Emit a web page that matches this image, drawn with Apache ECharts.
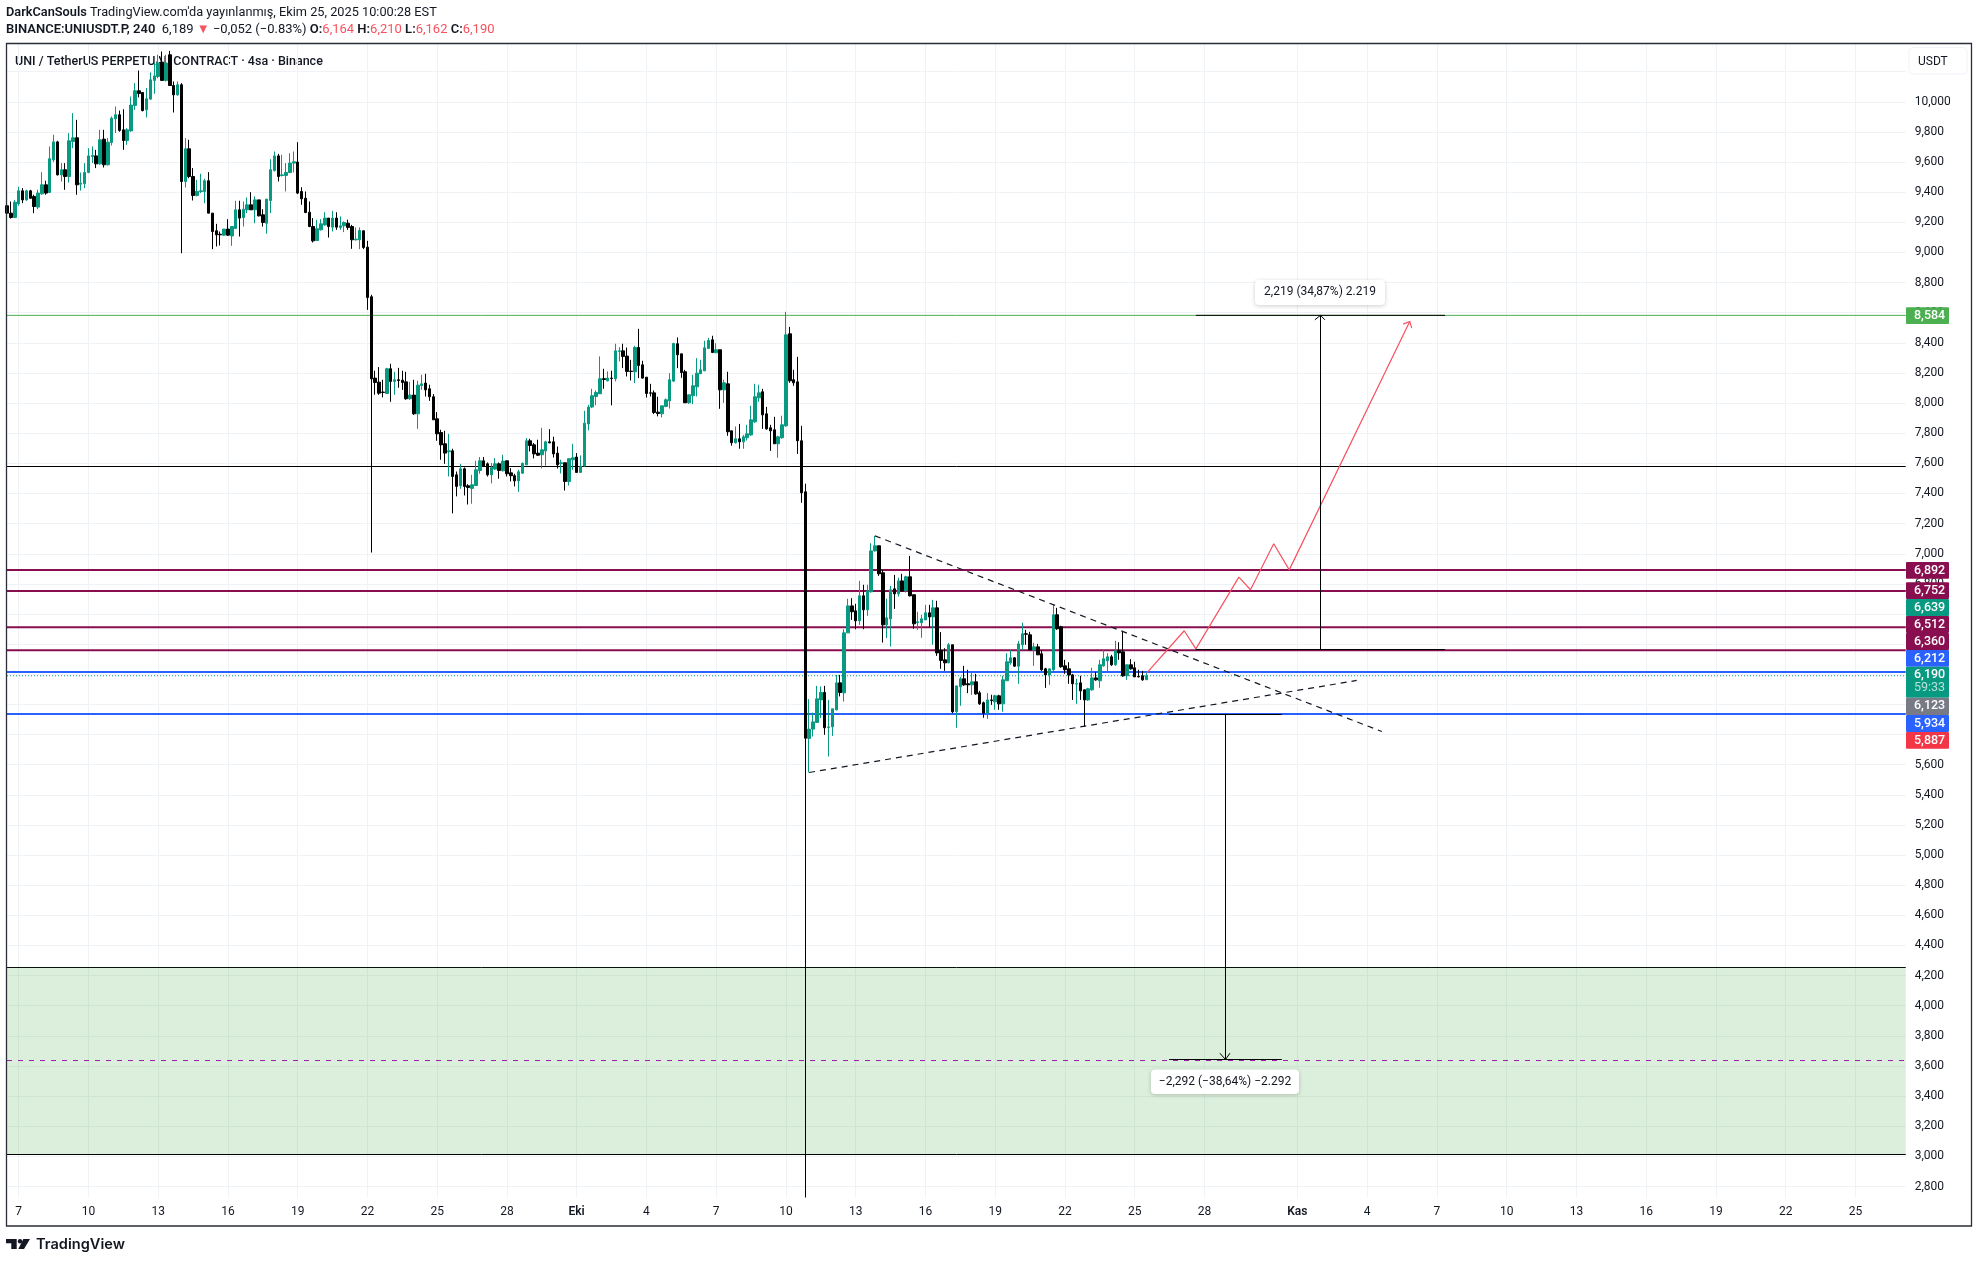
<!DOCTYPE html>
<html>
<head>
<meta charset="utf-8">
<title>UNIUSDT.P</title>
<style>
  html, body { margin: 0; background: #fff; }
  #chart { width: 1978px; height: 1263px; }
</style>
<script src="https://cdn.jsdelivr.net/npm/echarts@6/dist/echarts.min.js"></script>
</head>
<body>
<div id="chart"></div>
<script>
// 4h bars
const opens = [
  9.31,9.261,9.232,9.323,9.409,9.349,9.409,9.372,9.301,9.389,
  9.449,9.398,9.615,9.734,9.515,9.549,9.504,9.737,9.761,9.453,
  9.456,9.531,9.637,9.641,9.588,9.752,9.582,9.73,9.887,9.914,
  9.814,9.743,9.807,9.976,10.073,10.062,9.947,10.018,10.142,10.168,
  10.263,10.142,10.312,10.108,10.046,10.113,9.471,9.688,9.504,9.378,
  9.405,9.405,9.476,9.261,9.144,9.121,9.115,9.155,9.11,9.159,
  9.283,9.232,9.283,9.316,9.283,9.349,9.25,9.194,9.345,9.544,
  9.641,9.511,9.511,9.531,9.593,9.6,9.405,9.36,9.267,9.172,
  9.079,9.15,9.183,9.228,9.168,9.228,9.166,9.177,9.194,9.172,
  9.084,9.084,9.144,9.035,8.706,8.166,8.139,8.073,8.064,8.228,
  8.144,8.155,8.152,8.141,8.029,8.053,7.929,8.117,8.133,8.095,
  8.042,7.896,7.805,7.73,7.677,7.683,7.524,7.451,7.564,7.451,
  7.434,7.453,7.553,7.617,7.597,7.524,7.562,7.597,7.551,7.617,
  7.537,7.518,7.484,7.535,7.59,7.75,7.723,7.668,7.657,7.683,
  7.743,7.743,7.668,7.599,7.604,7.48,7.624,7.642,7.54,7.582,
  7.862,7.974,8.044,8.062,8.162,8.148,8.166,8.162,8.343,8.347,
  8.312,8.212,8.208,8.369,8.254,8.172,8.068,8.068,7.94,7.929,
  7.978,8.015,8.146,8.394,8.327,8.208,8.002,8.049,8.108,8.195,
  8.214,8.363,8.42,8.334,8.354,8.088,8.128,7.816,7.737,7.763,
  7.743,7.77,7.789,7.876,8.035,8.075,7.929,7.836,7.823,7.73,
  7.77,7.849,8.46,8.155,8.141,7.75,7.411,5.774,5.836,5.88,
  6.03,6.079,5.847,5.851,5.964,6.143,6.077,6.475,6.654,6.621,
  6.555,6.721,6.628,6.747,7.019,7.053,6.874,6.528,6.568,6.767,
  6.734,6.82,6.754,6.847,6.728,6.542,6.542,6.561,6.608,6.581,
  6.641,6.358,6.296,6.276,6.396,5.951,6.117,6.17,6.137,6.13,
  6.15,6.077,6.011,5.942,6.03,6.017,6.057,6.004,6.157,6.276,
  6.309,6.254,6.396,6.469,6.462,6.362,6.382,6.336,6.236,6.196,
  6.23,6.595,6.515,6.256,6.236,6.196,6.135,6.143,6.097,6.03,
  6.097,6.176,6.157,6.256,6.289,6.316,6.263,6.356,6.349,6.19,
  6.263,6.243,6.187,6.19,6.164
];
const closes = [
  9.261,9.232,9.334,9.409,9.349,9.409,9.36,9.305,9.394,9.449,
  9.394,9.622,9.734,9.515,9.549,9.504,9.741,9.761,9.449,9.46,
  9.531,9.641,9.644,9.588,9.748,9.582,9.732,9.891,9.914,9.81,
  9.743,9.814,9.978,10.073,10.055,9.942,10.02,10.146,10.172,10.257,
  10.142,10.257,10.108,10.046,10.113,9.471,9.688,9.504,9.378,9.405,
  9.409,9.476,9.261,9.139,9.117,9.117,9.155,9.115,9.172,9.283,
  9.228,9.287,9.316,9.283,9.349,9.243,9.199,9.354,9.549,9.641,
  9.504,9.515,9.531,9.593,9.602,9.394,9.356,9.265,9.172,9.077,
  9.157,9.19,9.228,9.172,9.228,9.168,9.177,9.199,9.166,9.084,
  9.088,9.146,9.033,8.701,8.161,8.137,8.066,8.071,8.228,8.144,
  8.155,8.15,8.137,8.029,8.053,7.929,8.119,8.128,8.088,8.042,
  7.889,7.796,7.723,7.668,7.683,7.513,7.447,7.564,7.447,7.44,
  7.458,7.557,7.617,7.579,7.524,7.573,7.597,7.553,7.615,7.531,
  7.518,7.484,7.544,7.6,7.75,7.719,7.663,7.654,7.69,7.743,
  7.736,7.663,7.59,7.604,7.48,7.631,7.637,7.54,7.582,7.867,
  7.974,8.049,8.071,8.162,8.157,8.166,8.164,8.347,8.347,8.31,
  8.21,8.21,8.369,8.25,8.166,8.064,8.066,7.938,7.931,7.982,
  8.022,8.155,8.396,8.321,8.203,8.002,8.055,8.115,8.199,8.221,
  8.367,8.416,8.336,8.354,8.088,8.135,7.81,7.737,7.763,7.743,
  7.776,7.796,7.889,8.042,8.068,7.922,7.829,7.816,7.73,7.776,
  7.856,8.453,8.148,8.135,7.75,7.405,5.776,5.836,5.884,6.037,
  6.079,5.845,5.851,5.971,6.143,6.079,6.475,6.654,6.615,6.555,
  6.721,6.628,6.754,7.019,7.053,6.867,6.528,6.575,6.761,6.734,
  6.82,6.752,6.847,6.721,6.535,6.548,6.568,6.608,6.581,6.641,
  6.342,6.292,6.276,6.396,5.951,6.123,6.17,6.13,6.13,6.15,
  6.07,6.004,5.942,6.03,6.026,6.057,6.004,6.163,6.283,6.309,
  6.254,6.402,6.469,6.466,6.362,6.382,6.329,6.23,6.196,6.236,
  6.595,6.502,6.25,6.23,6.196,6.137,6.137,6.09,6.03,6.104,
  6.176,6.163,6.263,6.303,6.316,6.263,6.356,6.342,6.19,6.263,
  6.236,6.183,6.183,6.163,6.19
];
const highs = [
  9.349,9.338,9.349,9.436,9.427,9.416,9.416,9.383,9.416,9.533,
  9.476,9.703,9.781,9.741,9.593,9.593,9.792,9.925,9.88,9.531,
  9.593,9.692,9.703,9.681,9.814,9.814,9.759,9.903,9.969,9.942,
  9.951,9.825,10.035,10.124,10.208,10.062,10.091,10.195,10.257,10.312,
  10.334,10.312,10.338,10.135,10.135,10.124,9.759,9.748,9.56,9.482,
  9.522,9.489,9.533,9.261,9.19,9.139,9.155,9.221,9.172,9.343,
  9.343,9.338,9.365,9.4,9.372,9.349,9.287,9.354,9.619,9.67,
  9.655,9.648,9.593,9.659,9.67,9.732,9.433,9.405,9.338,9.228,
  9.217,9.221,9.267,9.228,9.276,9.267,9.239,9.206,9.217,9.183,
  9.166,9.166,9.144,9.077,8.719,8.215,8.239,8.155,8.234,8.261,
  8.208,8.234,8.215,8.208,8.141,8.155,8.148,8.188,8.195,8.122,
  8.06,7.94,7.823,7.816,7.796,7.697,7.546,7.597,7.573,7.462,
  7.524,7.617,7.642,7.642,7.606,7.602,7.635,7.606,7.657,7.619,
  7.568,7.531,7.557,7.606,7.768,7.763,7.735,7.757,7.836,7.75,
  7.827,7.777,7.712,7.624,7.604,7.631,7.73,7.668,7.653,7.949,
  7.989,8.095,8.084,8.31,8.228,8.21,8.215,8.394,8.371,8.394,
  8.369,8.287,8.38,8.493,8.281,8.172,8.128,8.084,8.042,7.982,
  8.031,8.199,8.4,8.436,8.327,8.221,8.055,8.188,8.298,8.287,
  8.414,8.433,8.447,8.398,8.354,8.155,8.208,7.816,7.845,7.862,
  7.789,7.856,7.982,8.128,8.122,8.095,7.975,7.856,7.909,7.783,
  7.916,8.606,8.506,8.221,8.307,7.849,7.465,6.035,5.946,6.123,
  6.119,6.123,6.03,5.971,6.196,6.196,6.499,6.701,6.705,6.668,
  6.82,6.794,6.794,7.07,7.119,7.053,6.893,6.701,6.787,6.86,
  6.842,6.867,6.854,6.986,6.728,6.615,6.595,6.661,6.661,6.694,
  6.688,6.48,6.373,6.407,6.396,6.123,6.183,6.256,6.23,6.21,
  6.203,6.09,6.019,6.075,6.064,6.064,6.064,6.19,6.34,6.362,
  6.314,6.422,6.542,6.495,6.482,6.409,6.402,6.362,6.243,6.236,
  6.661,6.641,6.522,6.296,6.28,6.203,6.17,6.19,6.097,6.11,
  6.243,6.216,6.296,6.367,6.34,6.329,6.422,6.413,6.486,6.263,
  6.3,6.283,6.23,6.223,6.21
];
const lows = [
  9.217,9.225,9.228,9.31,9.327,9.343,9.356,9.261,9.287,9.383,
  9.383,9.398,9.6,9.511,9.471,9.416,9.464,9.692,9.383,9.411,
  9.427,9.526,9.593,9.56,9.582,9.564,9.577,9.71,9.792,9.801,
  9.681,9.714,9.801,9.947,10.029,9.936,9.896,10.013,10.053,10.157,
  10.142,10.135,10.106,9.929,10.04,8.995,9.431,9.493,9.345,9.372,
  9.394,9.327,9.261,9.022,9.04,9.046,9.11,9.11,9.044,9.155,
  9.106,9.172,9.261,9.283,9.194,9.239,9.172,9.124,9.261,9.537,
  9.471,9.504,9.405,9.526,9.531,9.387,9.316,9.261,9.168,9.066,
  9.077,9.146,9.177,9.099,9.139,9.15,9.15,9.135,9.15,9.024,
  9.079,9.022,9.022,8.619,7.008,8.055,8.055,8.038,8.062,8.009,
  8.055,8.102,8.088,8.022,8.022,7.922,7.829,8.088,8.044,8.015,
  7.889,7.75,7.624,7.597,7.513,7.268,7.381,7.431,7.387,7.327,
  7.332,7.451,7.531,7.579,7.513,7.467,7.557,7.498,7.546,7.513,
  7.48,7.447,7.411,7.531,7.59,7.679,7.633,7.65,7.566,7.584,
  7.734,7.639,7.566,7.533,7.42,7.453,7.557,7.54,7.54,7.579,
  7.819,7.967,7.985,8.062,8.095,8.144,7.985,8.144,8.277,8.232,
  8.177,8.15,8.133,8.166,8.162,8.037,8.044,7.927,7.912,7.905,
  7.973,7.964,8.141,8.232,8.168,8.002,7.995,7.993,8.044,8.195,
  8.214,8.363,8.332,8.334,7.962,8.002,7.783,7.717,7.732,7.697,
  7.697,7.752,7.783,7.867,8.009,7.829,7.823,7.683,7.73,7.637,
  7.763,7.843,8.135,8.115,7.663,7.338,2.727,5.548,5.787,5.88,
  5.909,5.798,5.654,5.791,5.96,6.053,6.019,6.475,6.561,6.499,
  6.528,6.499,6.588,6.743,7.015,6.853,6.411,6.44,6.384,6.634,
  6.716,6.747,6.743,6.716,6.502,6.495,6.442,6.561,6.513,6.396,
  6.322,6.236,6.223,6.274,5.942,5.845,5.991,6.123,6.075,6.064,
  6.064,5.997,5.911,5.904,5.997,5.964,5.964,5.951,6.157,6.263,
  6.25,6.137,6.362,6.396,6.362,6.256,6.329,6.223,6.11,6.13,
  6.223,6.495,6.243,6.203,6.137,6.03,6.004,6.03,5.853,6.024,
  6.09,6.157,6.11,6.25,6.216,6.256,6.256,6.296,6.183,6.163,
  6.23,6.183,6.179,6.157,6.162
];

// time axis: every bar is 4h, the scale runs on past the last candle
const tickDates = ['09-07','09-10','09-13','09-16','09-19','09-22','09-25','09-28','10-01','10-04','10-07','10-10','10-13','10-16','10-19','10-22','10-25','10-28','11-01','11-04','11-07','11-10','11-13','11-16','11-19','11-22','11-25'];
const tickLabels = ['7','10','13','16','19','22','25','28','Eki','4','7','10','13','16','19','22','25','28','Kas','4','7','10','13','16','19','22','25'];
const barCount = 491;
const categories = [];
for (let i = 0; i < barCount; i++) {
  const d = new Date(Date.UTC(2025, 8, 6, 12 + i * 4));
  const mm = String(d.getUTCMonth() + 1).padStart(2, '0');
  const dd = String(d.getUTCDate()).padStart(2, '0');
  const hh = String(d.getUTCHours()).padStart(2, '0');
  categories.push(mm + '-' + dd + ' ' + hh);
}

const gridTicks = [2.8,3,3.2,3.4,3.6,3.8,4,4.2,4.4,4.6,4.8,5,5.2,5.4,5.6,5.8,6,6.2,6.4,6.6,6.8,7,7.2,7.4,7.6,7.8,8,8.2,8.4,8.6,8.8,9,9.2,9.4,9.6,9.8,10,10.2];
const labelTicks = gridTicks.slice(0, -1); // 10,200 sits under the USDT button

// horizontal levels
const maroonLevels = [6.892, 6.752, 6.512, 6.36];
const blueLevels = [6.2151, 5.9361];
const targetLevel = 8.5825;
const pivotLevel = 7.5792;
const zoneTop = 4.2536;
const zoneBottom = 3.0124;
const zoneMid = 3.6362;
const lastClose = 6.19;

// drawings, [bar, price]
const fallingTrend = [[224, 7.119], [354.8, 5.82]];
const risingTrend = [[207, 5.548], [348.3, 6.159]];
const projection = [[294.1, 6.208], [303.8, 6.489], [306.8, 6.369], [317.9, 6.845], [320.9, 6.761], [326.9, 7.066], [330.9, 6.893], [362, 8.542]];
const projectionHead = [[360.3, 8.524], [362, 8.542], [362.5, 8.498]];
const upStem = [[338.97, 6.3644], [338.97, 8.5825]];
const upHead = [[337.5, 8.553], [338.97, 8.5825], [340.1, 8.553]];
const upCapTop = [[306.8, 8.5825], [371.1, 8.5825]];
const upCapBottom = [[306.8, 6.3644], [371.1, 6.3644]];
const downStem = [[314.45, 5.933], [314.45, 3.6429]];
const downHead = [[313, 3.685], [314.45, 3.6429], [315.6, 3.685]];
const downCapTop = [[299.9, 5.933], [329, 5.933]];
const downCapBottom = [[299.9, 3.6429], [329, 3.6429]];

// price scale tags
const tagLabels = ['8,584', '6,892', '6,752', '6,639', '6,512', '6,360', '6,212', '6,190', '6,123', '5,934', '5,887'];
const tagColors = ['#4caf50', '#880e4f', '#880e4f', '#089981', '#880e4f', '#880e4f', '#2962ff', '#089981', '#787b86', '#2962ff', '#f23645'];
const tagTops = [307.3, 562, 582.3, 599, 616, 633, 650, 666.7, 697.7, 715, 732];
const tagHeights = [16.7, 16.7, 16.7, 17, 17, 17, 16.7, 31, 17.3, 17, 16.7];

const textColor = '#131722';
const font = 'Roboto, sans-serif';
const tickSet = {};
tickDates.forEach((d, i) => { tickSet[d + ' 00'] = tickLabels[i]; });

function hLine(price, color, width, type) {
  return {
    type: 'line', xAxisIndex: 1, yAxisIndex: 0, silent: true, z: 1,
    data: [[0, price], [490, price]],
    symbol: 'none', animation: false,
    lineStyle: { color: color, width: width, type: type || 'solid' }
  };
}
function drawing(points, color, width, type) {
  return {
    type: 'line', xAxisIndex: 1, yAxisIndex: 0, silent: true, z: 5,
    data: points, symbol: 'none', animation: false,
    lineStyle: { color: color, width: width, type: type || 'solid' }
  };
}

const zoneSeries = hLine(zoneTop, '#000', 1);
zoneSeries.z = 0;
zoneSeries.markArea = {
  silent: true,
  itemStyle: { color: 'rgba(76,175,80,0.2)' },
  data: [[{ xAxis: 0, yAxis: zoneTop }, { xAxis: 490, yAxis: zoneBottom }]]
};

const series = [
  zoneSeries,
  hLine(zoneBottom, '#000', 1),
  hLine(zoneMid, '#a21caf', 1, [5, 6]),
  hLine(targetLevel, '#4caf50', 1),
  hLine(pivotLevel, '#000', 1),
  hLine(lastClose, '#089981', 1, [1, 2])
];
maroonLevels.forEach(v => series.push(hLine(v, '#880e4f', 2)));
blueLevels.forEach(v => series.push(hLine(v, '#2962ff', 2)));

series.push({
  type: 'candlestick',
  xAxisIndex: 0, yAxisIndex: 0, z: 3, barWidth: 3, animation: false, silent: true,
  itemStyle: { color: '#089981', borderColor: '#089981', color0: '#000000', borderColor0: '#000000', borderWidth: 1 },
  data: opens.map((o, i) => [o, closes[i], lows[i], highs[i]])
});

const dashed = [6, 5];
[fallingTrend, risingTrend].forEach(p => series.push(drawing(p, '#131722', 1.2, dashed)));
[projection, projectionHead].forEach(p => series.push(drawing(p, '#f7525f', 1.2)));
[upStem, upHead, upCapTop, upCapBottom, downStem, downHead, downCapTop, downCapBottom].forEach(p => series.push(drawing(p, '#000', 1)));

// page furniture that is not on the scales
const graphic = [
  {
    type: 'text', left: 6, top: 6, silent: true,
    style: {
      text: "{b|DarkCanSouls} TradingView.com'da yayınlanmış, Ekim 25, 2025 10:00:28 EST",
      font: '12.75px ' + font, fill: textColor,
      rich: { b: { font: '600 12.75px ' + font, fill: textColor } }
    }
  },
  {
    type: 'text', left: 6, top: 23.5, silent: true,
    style: {
      text: '{b|BINANCE:UNIUSDT.P, 240}  6,189 {r|▼} −0,052 (−0.83%) {b|O:}{r|6,164} {b|H:}{r|6,210} {b|L:}{r|6,162} {b|C:}{r|6,190}',
      font: '13px ' + font, fill: textColor,
      rich: {
        b: { font: '600 13px ' + font, fill: textColor },
        r: { font: '13px ' + font, fill: '#f7525f' }
      }
    }
  },
  {
    type: 'text', left: 15, top: 55, silent: true,
    style: { text: 'UNI / TetherUS PERPETUAL CONTRACT · 4sa · Binance', font: '500 12.5px ' + font, fill: textColor }
  },
  // frame
  { type: 'rect', silent: true, z: 20, shape: { x: 6.5, y: 43.5, width: 1965, height: 1182.5 }, style: { fill: 'none', stroke: '#2a2e39', lineWidth: 1.3 } },
  // currency button
  { type: 'rect', silent: true, z: 20, shape: { x: 1909, y: 47.5, width: 58, height: 26.5, r: 4 }, style: { fill: '#fff', stroke: '#f0f3fa', lineWidth: 1 } },
  { type: 'text', silent: true, z: 21, style: { text: 'USDT', x: 1918, y: 61.5, font: '12px ' + font, fill: textColor, verticalAlign: 'middle' } },
  // measure boxes
  { type: 'rect', silent: true, z: 20, shape: { x: 1255, y: 280, width: 130, height: 25, r: 4 }, style: { fill: '#fff', shadowBlur: 4, shadowColor: 'rgba(0,0,0,0.2)', shadowOffsetY: 1 } },
  { type: 'text', silent: true, z: 21, style: { text: '2,219 (34,87%) 2.219', x: 1320, y: 292, font: '12px ' + font, fill: textColor, align: 'center', verticalAlign: 'middle' } },
  { type: 'rect', silent: true, z: 20, shape: { x: 1151, y: 1069.5, width: 148, height: 24.5, r: 4 }, style: { fill: '#fff', shadowBlur: 4, shadowColor: 'rgba(0,0,0,0.2)', shadowOffsetY: 1 } },
  { type: 'text', silent: true, z: 21, style: { text: '−2,292 (−38,64%) −2.292', x: 1225, y: 1081.5, font: '12px ' + font, fill: textColor, align: 'center', verticalAlign: 'middle' } },
  // logo
  { type: 'polygon', silent: true, shape: { points: [[6, 1239], [16.7, 1239], [16.7, 1249], [11.3, 1249], [11.3, 1243.3], [6, 1243.3]] }, style: { fill: '#131722' } },
  { type: 'circle', silent: true, shape: { cx: 20, cy: 1241.2, r: 2.2 }, style: { fill: '#131722' } },
  { type: 'polygon', silent: true, shape: { points: [[23.3, 1239], [30, 1239], [24, 1249], [18.3, 1249]] }, style: { fill: '#131722' } },
  { type: 'text', silent: true, style: { text: 'TradingView', x: 36, y: 1244.5, font: '600 14.6px Inter, sans-serif', fill: '#131722', verticalAlign: 'middle' } }
];
tagLabels.forEach((label, i) => {
  graphic.push({
    type: 'rect', silent: true, z: 10,
    shape: { x: 1906, y: tagTops[i], width: 43, height: tagHeights[i], r: 1 },
    style: { fill: tagColors[i] }
  });
  graphic.push({
    type: 'text', silent: true, z: 11,
    style: { text: label, x: 1914, y: tagTops[i] + 8.5, font: '500 12.5px ' + font, fill: '#fff', verticalAlign: 'middle' }
  });
});
graphic.push({
  type: 'text', silent: true, z: 11,
  style: { text: '59:33', x: 1914, y: 688, font: '12.5px ' + font, fill: 'rgba(255,255,255,0.7)', verticalAlign: 'middle' }
});

const chart = echarts.init(document.getElementById('chart'));
chart.setOption({
  animation: false,
  backgroundColor: '#fff',
  textStyle: { fontFamily: font },
  grid: { left: 7, top: 43.8, width: 1898.75, height: 1153.7, containLabel: false },
  xAxis: [
    {
      type: 'category',
      data: categories,
      boundaryGap: false,
      axisLine: { show: false },
      axisTick: { show: false },
      axisLabel: {
        color: textColor, fontSize: 12, margin: 8,
        interval: (i, v) => tickSet[v] !== undefined,
        formatter: v => {
          const t = tickSet[v];
          return (t === 'Eki' || t === 'Kas') ? '{m|' + t + '}' : t;
        },
        rich: { m: { fontWeight: 600, fontSize: 12, color: textColor } }
      },
      splitLine: { show: true, interval: (i, v) => tickSet[v] !== undefined, lineStyle: { color: '#f0f3f5', width: 1 } }
    },
    { type: 'value', min: 0, max: 490, show: false, splitLine: { show: false } }
  ],
  yAxis: [{
    type: 'value',
    position: 'right',
    min: 2.727,
    max: 10.385,
    axisLine: { show: false },
    axisTick: { show: false, customValues: gridTicks },
    axisLabel: {
      customValues: labelTicks,
      color: textColor, fontSize: 12, margin: 9,
      formatter: v => v.toFixed(3).replace('.', ',')
    },
    splitLine: { show: true, customValues: gridTicks, lineStyle: { color: '#f0f3f5', width: 1 } }
  }],
  series: series,
  graphic: graphic
});
</script>
</body>
</html>
